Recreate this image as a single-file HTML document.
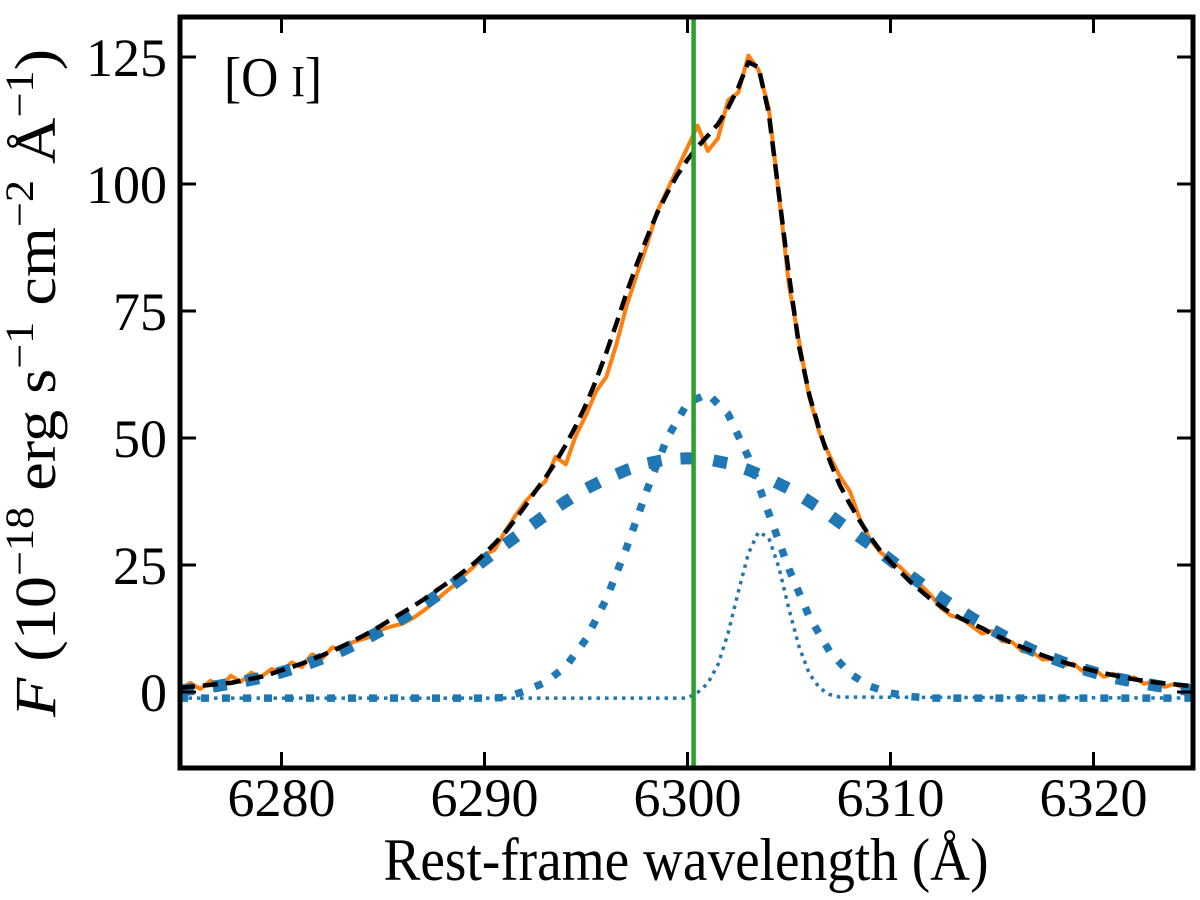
<!DOCTYPE html>
<html><head><meta charset="utf-8"><style>
html,body{margin:0;padding:0;background:#fff;}
svg{display:block;font-family:"Liberation Serif",serif;}
</style></head><body>
<svg id="chart" width="1200" height="900" viewBox="0 0 1200 900" xmlns="http://www.w3.org/2000/svg">
<defs><clipPath id="plotclip"><rect x="180" y="17" width="1013" height="751"/></clipPath></defs>
<g id="marks" clip-path="url(#plotclip)"></g>
<g id="axes"></g>
<text x="224" y="96" font-size="56" textLength="98" lengthAdjust="spacingAndGlyphs">[O <tspan font-size="44">I</tspan>]</text>
<text x="686" y="880" font-size="60" text-anchor="middle" textLength="605" lengthAdjust="spacingAndGlyphs">Rest-frame wavelength (Å)</text>
<text transform="translate(55,383) rotate(-90)" font-size="58" text-anchor="middle" textLength="668" lengthAdjust="spacingAndGlyphs"><tspan font-style="italic">F</tspan>  (10<tspan font-size="40" dy="-22">−18</tspan><tspan dy="22"> erg s</tspan><tspan font-size="40" dy="-22">−1</tspan><tspan dy="22"> cm</tspan><tspan font-size="40" dy="-22">−2</tspan><tspan dy="22"> Å</tspan><tspan font-size="40" dy="-22">−1</tspan><tspan dy="22">)</tspan></text>
</svg>
<script>
const xTicks = [6280, 6290, 6300, 6310, 6320];
const yTicks = [0, 25, 50, 75, 100, 125];
const restLambda = 6300.3;
const obsLambda = [6275,6275.5,6276,6276.5,6277,6277.5,6278,6278.5,6279,6279.5,6280,6280.5,6281,6281.5,6282,6282.5,6283,6283.5,6284,6284.5,6285,6285.5,6286,6286.5,6287,6287.5,6288,6288.5,6289,6289.5,6290,6290.5,6291,6291.5,6292,6292.5,6293,6293.5,6294,6294.5,6295,6295.5,6296,6296.5,6297,6297.5,6298,6298.5,6299,6299.5,6300,6300.5,6301,6301.5,6302,6302.5,6303,6303.5,6304,6304.5,6305,6305.5,6306,6306.5,6307,6307.5,6308,6308.5,6309,6309.5,6310,6310.5,6311,6311.5,6312,6312.5,6313,6313.5,6314,6314.5,6315,6315.5,6316,6316.5,6317,6317.5,6318,6318.5,6319,6319.5,6320,6320.5,6321,6321.5,6322,6322.5,6323,6323.5,6324,6324.5,6325];
const obsFlux = [0.5,1.8,0.6,2.2,1.0,3.2,2.0,3.8,3.0,4.5,4.0,5.8,4.9,7.4,6.6,8.8,8.2,9.8,10.4,11.0,12.4,13.0,13.5,14.6,16.0,17.6,19.4,21.0,23.0,24.8,27.0,28.0,31.5,34.6,37.4,39.6,41.5,46.3,44.8,50.5,54.5,59.2,62.0,68.5,76.0,82.2,88.0,94.5,98.8,103.0,107.2,111.5,106.5,109.0,116.5,118.0,125.3,122.5,115.0,98.0,80.0,69.0,58.0,51.0,46.5,42.5,39.5,34.0,30.0,27.5,26.0,24.5,22.5,21.0,19.0,16.5,15.0,14.5,13.0,11.5,12.0,10.0,9.8,8.0,7.8,6.4,6.5,5.2,5.6,4.0,4.6,3.0,3.6,2.2,2.9,1.6,2.2,1.0,1.6,0.6,1.0];
const modelFlux = [0.8,1.0,1.2,1.4,1.6,1.8,2.2,2.6,3.0,3.6,4.3,4.9,5.6,6.4,7.2,8.1,9.0,10.0,11.0,12.1,13.3,14.5,15.7,16.9,18.2,19.6,21.0,22.3,23.8,25.4,27.2,29.2,31.3,33.9,36.6,39.5,42.2,45.2,48.6,52.4,56.6,61.4,66.8,72.6,78.6,84.2,89.4,94.2,98.2,101.8,104.8,107.3,109.5,111.8,115.0,119.0,124.0,123.0,114.0,98.0,82.0,68.0,58.5,51.5,45.6,40.7,37.0,33.6,30.5,27.8,25.6,23.6,21.6,19.9,18.2,16.8,15.5,14.4,13.5,12.6,11.5,10.6,9.6,8.8,8.0,7.2,6.5,5.9,5.3,4.7,4.2,3.7,3.3,2.9,2.5,2.2,1.9,1.7,1.5,1.3,1.2];
const compLambda = [6275,6276,6277,6278,6279,6280,6281,6282,6283,6284,6285,6286,6287,6288,6289,6290,6291,6292,6293,6294,6295,6296,6297,6298,6299,6300,6301,6302,6303,6304,6305,6306,6307,6308,6309,6310,6311,6312,6313,6314,6315,6316,6317,6318,6319,6320,6321,6322,6323,6324,6325];
const broadFlux = [0.3,0.7,1.3,2.0,2.8,3.9,5.1,6.6,8.2,10.1,12.3,14.6,17.2,19.9,22.8,26.0,29.0,31.9,34.8,37.5,40.0,42.0,43.7,45.0,45.8,46.0,45.8,45.0,43.7,42.0,40.0,37.5,34.8,31.9,29.0,26.0,22.8,19.9,17.2,14.6,12.3,10.1,8.2,6.6,5.1,3.9,2.8,2.0,1.3,0.7,0.3];
const mediumFlux = [-1.2,-1.2,-1.2,-1.2,-1.2,-1.2,-1.2,-1.2,-1.2,-1.2,-1.2,-1.2,-1.2,-1.2,-1.2,-1.2,-1.1,0.2,1.9,5.0,10.4,18.3,28.4,39.7,50.0,56.9,58.7,54.7,46.2,35.2,24.2,14.8,8.0,3.6,1.1,-0.2,-0.9,-1.2,-1.2,-1.2,-1.2,-1.2,-1.2,-1.2,-1.2,-1.2,-1.2,-1.2,-1.2,-1.2,-1.2];
const narrowLambda = [6275,6300,6300.5,6301,6301.5,6302,6302.5,6303,6303.5,6304,6304.5,6305,6305.5,6306,6306.5,6307,6307.5,6325];
const narrowFlux = [-1.2,-1.2,-0.1,1.7,5.4,11.6,19.7,27.3,31.5,30.4,24.5,16.3,8.9,3.6,0.8,-0.5,-1.0,-1.2];

const X0=180, X1=1195, Y0=692, PXY=5.08;
function sx(l){ return X0 + (l-6275)*(X1-X0)/50; }
function sy(v){ return Y0 - v*PXY; }
const NS="http://www.w3.org/2000/svg";
const marks=document.getElementById('marks');
const axes=document.getElementById('axes');
function pathFrom(xs, ys){ return xs.map((l,i)=>(i?'L':'M')+sx(l).toFixed(1)+','+sy(ys[i]).toFixed(1)).join(' '); }
function addPath(parent, d, stroke, w, dash, cap){
  const p=document.createElementNS(NS,'path');
  p.setAttribute('d',d); p.setAttribute('fill','none'); p.setAttribute('stroke',stroke);
  p.setAttribute('stroke-width',w); p.setAttribute('stroke-linejoin','round');
  if(dash) p.setAttribute('stroke-dasharray',dash);
  p.setAttribute('stroke-linecap',cap||'butt');
  parent.appendChild(p); return p;
}
let p;
p=addPath(marks, pathFrom(obsLambda,obsFlux), '#ff7f0e', 4, null, 'round');


p=addPath(marks, pathFrom(compLambda,broadFlux), '#1f77b4', 12, '14 19');


p=addPath(marks, pathFrom(compLambda,mediumFlux), '#1f77b4', 7.5, '8 13');


p=addPath(marks, pathFrom(narrowLambda,narrowFlux), '#1f77b4', 3.5, '3.5 5');


p=addPath(marks, pathFrom(obsLambda,modelFlux), '#000', 4.5, '15 8');


p=addPath(marks, 'M'+sx(restLambda).toFixed(1)+',17 L'+sx(restLambda).toFixed(1)+',768', '#2ca02c', 4.5);



xTicks.forEach(t=>{
  const x=sx(t).toFixed(1);
  const tk=addPath(axes,'M'+x+',768 L'+x+',752 M'+x+',17 L'+x+',33','#000',3);
  
  
  const tx=document.createElementNS(NS,'text');
  tx.setAttribute('x',x); tx.setAttribute('y',816); tx.setAttribute('font-size',54); tx.setAttribute('text-anchor','middle');
  tx.textContent=t;
  
  
  axes.appendChild(tx);
});
yTicks.forEach(t=>{
  const y=sy(t).toFixed(1);
  const tk=addPath(axes,'M180,'+y+' L196,'+y+' M1193,'+y+' L1177,'+y,'#000',3);
  
  
  const tx=document.createElementNS(NS,'text');
  tx.setAttribute('x',167); tx.setAttribute('y',(sy(t)+19).toFixed(1)); tx.setAttribute('font-size',54); tx.setAttribute('text-anchor','end');
  tx.textContent=t;
  
  
  axes.appendChild(tx);
});
const frame=document.createElementNS(NS,'rect');
frame.setAttribute('x',180); frame.setAttribute('y',17); frame.setAttribute('width',1013); frame.setAttribute('height',751);
frame.setAttribute('fill','none'); frame.setAttribute('stroke','#000'); frame.setAttribute('stroke-width',5);


axes.appendChild(frame);
</script>
</body></html>
